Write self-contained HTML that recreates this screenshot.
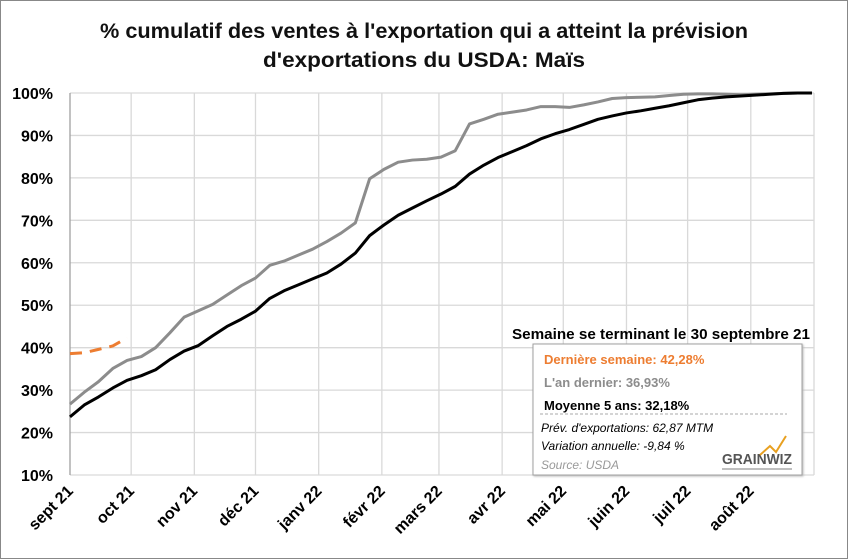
<!DOCTYPE html>
<html><head><meta charset="utf-8"><style>
body{margin:0;background:#fff}
svg{display:block;font-family:"Liberation Sans",sans-serif}
</style></head><body>
<svg id="chart" width="848" height="559" viewBox="0 0 848 559">
<rect x="0.5" y="0.5" width="847" height="558" fill="#fff" stroke="#888"/>
<text x="424" y="38" font-size="21" font-weight="bold" text-anchor="middle" textLength="648" lengthAdjust="spacingAndGlyphs" fill="#111">% cumulatif des ventes à l'exportation qui a atteint la prévision</text>
<text x="424" y="67" font-size="21" font-weight="bold" text-anchor="middle" textLength="322" lengthAdjust="spacingAndGlyphs" fill="#111">d'exportations du USDA: Maïs</text>
<g id="grid"></g><g id="yaxis"></g><g id="xaxis"></g><g id="series"></g>
<g>
<text x="661" y="339" font-size="15" font-weight="bold" text-anchor="middle" textLength="298" lengthAdjust="spacingAndGlyphs">Semaine se terminant le 30 septembre 21</text>
<rect x="533" y="344" width="269" height="131" fill="#fff" stroke="#a0a0a0" style="filter:drop-shadow(1px 1px 1px #bbb)"/>
<text x="544" y="364" font-size="13" font-weight="bold" fill="#ed7d31">Dernière semaine: 42,28%</text>
<text x="544" y="387" font-size="13" font-weight="bold" fill="#8c8c8c">L'an dernier: 36,93%</text>
<text x="544" y="410" font-size="13" font-weight="bold" fill="#000">Moyenne 5 ans: 32,18%</text>
<line x1="540" y1="414" x2="787" y2="414" stroke="#aaa" stroke-dasharray="3,2"/>
<text x="541" y="432" font-size="12" font-style="italic">Prév. d'exportations:  62,87 MTM</text>
<text x="541" y="450" font-size="12" font-style="italic">Variation annuelle:  -9,84 %</text>
<text x="541" y="469" font-size="12" font-style="italic" fill="#999">Source:  USDA</text>
<g>
<text x="722" y="464" font-size="15" font-weight="bold" fill="#555" textLength="70" lengthAdjust="spacingAndGlyphs">GRAINWIZ</text>
<polyline points="760,455 770,446 776,452 786,436" fill="none" stroke="#e8a020" stroke-width="2"/>
<line x1="722" y1="469" x2="792" y2="469" stroke="#aaa" stroke-width="1.5"/>
</g>
</g>
</svg>
<script>
const months=["sept 21","oct 21","nov 21","déc 21","janv 22","févr 22","mars 22","avr 22","mai 22","juin 22","juil 22","août 22",""];
const monthDays=[0,30,61,91,122,153,181,212,242,273,303,334,365];
const yTicks=[10,20,30,40,50,60,70,80,90,100];
const fiveYearAvg=[23.7,26.5,28.4,30.5,32.3,33.4,34.8,37.2,39.2,40.5,42.8,45.0,46.7,48.6,51.6,53.4,54.8,56.2,57.6,59.7,62.3,66.4,68.9,71.2,72.9,74.6,76.2,78.0,80.9,83.0,84.8,86.2,87.6,89.2,90.4,91.4,92.6,93.8,94.6,95.3,95.8,96.4,97.0,97.7,98.4,98.8,99.1,99.3,99.5,99.7,99.9,100,100];
const lastYear=[26.7,29.5,32.0,35.1,37.0,37.9,40.0,43.5,47.2,48.7,50.2,52.4,54.6,56.4,59.4,60.4,61.8,63.2,65.0,67.0,69.4,79.8,82.0,83.7,84.2,84.4,84.9,86.4,92.7,93.8,95.0,95.5,96.0,96.8,96.8,96.6,97.2,97.9,98.7,98.9,99.0,99.1,99.4,99.7,99.8,99.8,99.7,99.6,99.7,99.8,99.9,100,100];
const currentYear=[38.6,38.8,39.6,40.4,42.3];
const NS="http://www.w3.org/2000/svg";
const X0=70,X1=814,Y0=475,Y1=93;
const xDay=d=>X0+d*(X1-X0)/365;
const xWeek=k=>xDay(k*7);
const yV=v=>Y0-(v-10)*(Y0-Y1)/90;
function mk(tag,parent,attrs){const e=document.createElementNS(NS,tag);for(const k in attrs)e.setAttribute(k,attrs[k]);parent.appendChild(e);return e;}
const grid=document.getElementById('grid'),ya=document.getElementById('yaxis'),xa=document.getElementById('xaxis'),ser=document.getElementById('series');
yTicks.forEach(v=>{
  const l=mk('line',grid,{x1:X0,x2:X1,y1:yV(v),y2:yV(v),stroke:'#d9d9d9','stroke-width':1.3});
  
  
  const t=mk('text',ya,{x:53,y:yV(v)+6,'font-size':16,'font-weight':'bold','text-anchor':'end'});
  t.textContent=v+'%';
  
  
});
monthDays.forEach((d,i)=>{
  const x=xDay(d);
  const l=mk('line',grid,{x1:x,x2:x,y1:Y1,y2:Y0,stroke:i==0?'#a0a0a0':'#d9d9d9','stroke-width':1.3});
  
  
  if(months[i]){
    const t=mk('text',xa,{x:x+4,y:492,'font-size':16,'font-weight':'bold','text-anchor':'end',transform:`rotate(-45 ${x+4} 492)`});
    t.textContent=months[i];
    
    
  }
});
function line(arr,color,name,dash){
  const p=mk('polyline',ser,{points:arr.map((v,k)=>xWeek(k)+','+yV(v)).join(' '),fill:'none',stroke:color,'stroke-width':3,'stroke-linejoin':'round'});
  if(dash)p.setAttribute('stroke-dasharray',dash);
  
  
}
line(lastYear,'#8c8c8c','last-year-line');
line(fiveYearAvg,'#000','five-year-average-line');
line(currentYear,'#ed7d31','current-year-line','12,8');
</script>
</body></html>
